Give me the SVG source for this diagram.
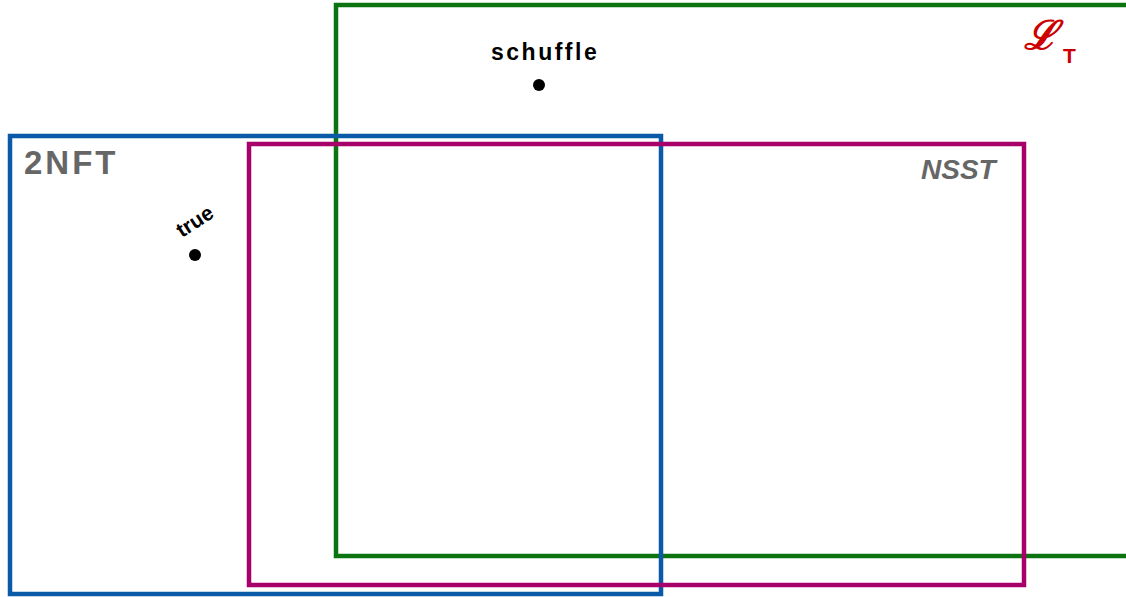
<svg xmlns="http://www.w3.org/2000/svg" width="1126" height="597" viewBox="0 0 1126 597">
<style>
.box{fill:none;stroke-width:4.5}
.lbl{font-family:"Liberation Sans",Arial,sans-serif;font-weight:bold;fill:#666666}
.pt{font-family:"Liberation Sans",Arial,sans-serif;font-weight:bold;fill:#000000}
.dot{fill:#000000}
</style>
<rect width="1126" height="597" fill="#ffffff"/>
<g id="lt">
<rect class="box" x="336" y="5" width="800" height="551" stroke="#0b7410"/>
<text x="1024" y="49" font-family="'Liberation Serif',serif" font-style="italic" font-weight="bold" font-size="40" fill="#cc0000">ℒ</text>
<text x="1063" y="63" font-family="'Liberation Sans',Arial,sans-serif" font-weight="bold" font-size="21" fill="#cc0000">T</text>
</g>
<g id="nft">
<rect class="box" x="10" y="136" width="651" height="458" stroke="#0b5aa8"/>
<text x="24" y="174" class="lbl" font-size="33" letter-spacing="3">2NFT</text>
</g>
<g id="nsst">
<rect class="box" x="249" y="144" width="775" height="441" stroke="#a8006a"/>
<text x="921" y="179" class="lbl" font-size="28" font-style="italic">NSST</text>
</g>
<g id="schuffle">
<text x="491" y="60" class="pt" font-size="23" letter-spacing="2.5">schuffle</text>
<circle class="dot" cx="539" cy="85" r="6"/>
</g>
<g id="true">
<text x="0" y="0" class="pt" font-size="21" transform="translate(182,238) rotate(-33)">true</text>
<circle class="dot" cx="195" cy="255" r="6"/>
</g>
<g id="connectors"></g>
</svg>
